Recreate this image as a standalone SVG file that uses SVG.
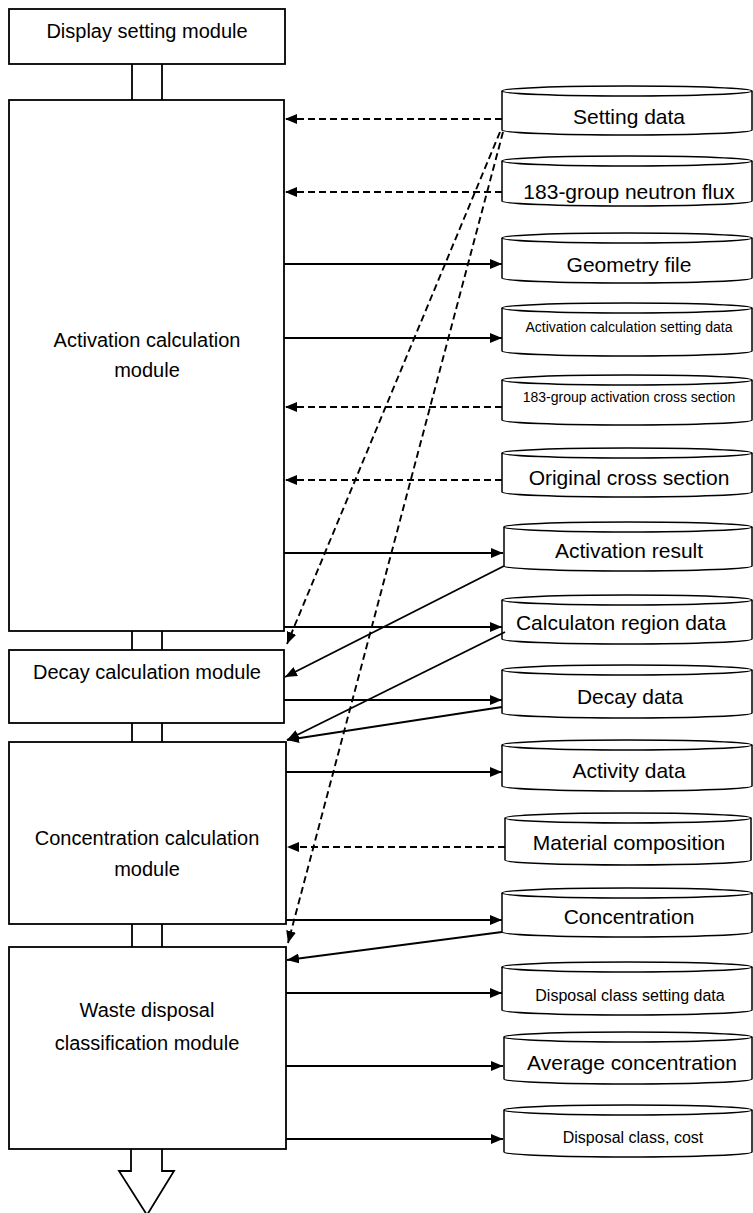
<svg xmlns="http://www.w3.org/2000/svg" width="753" height="1213" viewBox="0 0 753 1213">
<style>
.box{fill:#fff;stroke:#000;stroke-width:1.8}
.cyl{fill:#fff;stroke:#000;stroke-width:1.5}
.mt{font-family:"Liberation Sans",Arial,sans-serif;font-size:20px;fill:#000;text-anchor:middle}
.ct{font-family:"Liberation Sans",Arial,sans-serif;font-size:21px;fill:#000;text-anchor:middle}
.cs{font-family:"Liberation Sans",Arial,sans-serif;font-size:14px;fill:#000;text-anchor:middle}
.cm{font-family:"Liberation Sans",Arial,sans-serif;font-size:16px;fill:#000;text-anchor:middle}
.s{stroke:#000;stroke-width:1.9;fill:none;marker-end:url(#ah)}
.d{stroke:#000;stroke-width:1.9;fill:none;stroke-dasharray:7 4;marker-end:url(#ah)}
.stub{stroke:#000;stroke-width:1.8;fill:none}
</style>
<defs>
<marker id="ah" viewBox="0 0 12 10" refX="12" refY="5" markerWidth="12" markerHeight="10" markerUnits="userSpaceOnUse" orient="auto">
<path d="M0,0 L12,5 L0,10 z" fill="#000" stroke="none"/>
</marker>
</defs>
<rect width="753" height="1213" fill="#fff"/>

<g id="stubs">
<path class="stub" d="M132,64V100M162,64V100M132,631V650M162,631V650M132,723V742M162,723V742M132,924V947M162,924V947"/>
<path class="stub" d="M131,1149V1171H119L147,1215L174,1171H162V1149"/>
</g>

<g id="display-setting-module">
<rect class="box" x="9" y="9" width="276" height="55"/>
<text class="mt" x="147" y="38">Display setting module</text>
</g>
<g id="activation-calculation-module">
<rect class="box" x="9" y="100" width="275" height="531"/>
<text class="mt" x="147" y="347">Activation calculation</text>
<text class="mt" x="147" y="377">module</text>
</g>
<g id="decay-calculation-module">
<rect class="box" x="9" y="650" width="275" height="73"/>
<text class="mt" x="147" y="679">Decay calculation module</text>
</g>
<g id="concentration-calculation-module">
<rect class="box" x="9" y="742" width="277" height="182"/>
<text class="mt" x="147" y="845">Concentration calculation</text>
<text class="mt" x="147" y="876">module</text>
</g>
<g id="waste-disposal-classification-module">
<rect class="box" x="9" y="947" width="277" height="202"/>
<text class="mt" x="147" y="1017">Waste disposal</text>
<text class="mt" x="147" y="1050">classification module</text>
</g>

<g id="setting-data">
<path class="cyl" d="M502,91V130A125,5 0 0 0 752,130V91"/><ellipse class="cyl" cx="627" cy="91" rx="125" ry="5"/>
<text class="ct" x="629" y="124">Setting data</text>
</g>
<g id="neutron-flux">
<path class="cyl" d="M502,161V201A125,5 0 0 0 752,201V161"/><ellipse class="cyl" cx="627" cy="161" rx="125" ry="5"/>
<text class="ct" x="629" y="199">183-group neutron flux</text>
</g>
<g id="geometry-file">
<path class="cyl" d="M502,238V278A125,5 0 0 0 752,278V238"/><ellipse class="cyl" cx="627" cy="238" rx="125" ry="5"/>
<text class="ct" x="629" y="272">Geometry file</text>
</g>
<g id="activation-calculation-setting-data">
<path class="cyl" d="M502,308V351A125,5 0 0 0 752,351V308"/><ellipse class="cyl" cx="627" cy="308" rx="125" ry="5"/>
<text class="cs" x="629" y="332">Activation calculation setting data</text>
</g>
<g id="activation-cross-section">
<path class="cyl" d="M502,380V420A125,5 0 0 0 752,420V380"/><ellipse class="cyl" cx="627" cy="380" rx="125" ry="5"/>
<text class="cs" x="629" y="402">183-group activation cross section</text>
</g>
<g id="original-cross-section">
<path class="cyl" d="M502,453V492A125,5 0 0 0 752,492V453"/><ellipse class="cyl" cx="627" cy="453" rx="125" ry="5"/>
<text class="ct" x="629" y="485">Original cross section</text>
</g>
<g id="activation-result">
<path class="cyl" d="M504,527V566A124,5 0 0 0 752,566V527"/><ellipse class="cyl" cx="628" cy="527" rx="124" ry="5"/>
<text class="ct" x="629" y="558">Activation result</text>
</g>
<g id="calculation-region-data">
<path class="cyl" d="M502,600V639A125,5 0 0 0 752,639V600"/><ellipse class="cyl" cx="627" cy="600" rx="125" ry="5"/>
<text class="ct" x="621" y="630">Calculaton region data</text>
</g>
<g id="decay-data">
<path class="cyl" d="M502,670V713A125,5 0 0 0 752,713V670"/><ellipse class="cyl" cx="627" cy="670" rx="125" ry="5"/>
<text class="ct" x="630" y="704">Decay data</text>
</g>
<g id="activity-data">
<path class="cyl" d="M502,745V786A125,5 0 0 0 752,786V745"/><ellipse class="cyl" cx="627" cy="745" rx="125" ry="5"/>
<text class="ct" x="629" y="778">Activity data</text>
</g>
<g id="material-composition">
<path class="cyl" d="M505,818V860A123,5 0 0 0 751,860V818"/><ellipse class="cyl" cx="628" cy="818" rx="123" ry="5"/>
<text class="ct" x="629" y="850">Material composition</text>
</g>
<g id="concentration">
<path class="cyl" d="M502,893V932A125,5 0 0 0 752,932V893"/><ellipse class="cyl" cx="627" cy="893" rx="125" ry="5"/>
<text class="ct" x="629" y="924">Concentration</text>
</g>
<g id="disposal-class-setting-data">
<path class="cyl" d="M502,967V1010A125,5 0 0 0 752,1010V967"/><ellipse class="cyl" cx="627" cy="967" rx="125" ry="5"/>
<text class="cm" x="630" y="1001">Disposal class setting data</text>
</g>
<g id="average-concentration">
<path class="cyl" d="M504,1037V1079A124,5 0 0 0 752,1079V1037"/><ellipse class="cyl" cx="628" cy="1037" rx="124" ry="5"/>
<text class="ct" x="632" y="1070">Average concentration</text>
</g>
<g id="disposal-class-cost">
<path class="cyl" d="M504,1110V1152A124,5 0 0 0 752,1152V1110"/><ellipse class="cyl" cx="628" cy="1110" rx="124" ry="5"/>
<text class="cm" x="633" y="1143">Disposal class, cost</text>
</g>

<g id="connectors">
<line class="d" x1="502" y1="119" x2="285" y2="119"/>
<line class="d" x1="502" y1="192" x2="285" y2="192"/>
<line class="s" x1="284" y1="264" x2="502" y2="264"/>
<line class="s" x1="284" y1="338" x2="502" y2="338"/>
<line class="d" x1="502" y1="407" x2="285" y2="407"/>
<line class="d" x1="502" y1="480" x2="285" y2="480"/>
<line class="s" x1="284" y1="553" x2="503" y2="553"/>
<line class="s" x1="284" y1="627" x2="502" y2="627"/>
<line class="s" x1="284" y1="700" x2="502" y2="700"/>
<line class="s" x1="286" y1="772" x2="502" y2="772"/>
<line class="d" x1="505" y1="847" x2="287" y2="847"/>
<line class="s" x1="286" y1="920" x2="502" y2="920"/>
<line class="s" x1="286" y1="993" x2="502" y2="993"/>
<line class="s" x1="286" y1="1066" x2="503" y2="1066"/>
<line class="s" x1="286" y1="1139" x2="503" y2="1139"/>
<line class="d" x1="500" y1="132" x2="287" y2="644"/>
<line class="d" x1="503" y1="132" x2="288" y2="943"/>
<line class="s" x1="504" y1="566" x2="285" y2="677"/>
<line class="s" x1="505" y1="632" x2="287" y2="740"/>
<line class="s" x1="502" y1="707" x2="287" y2="740"/>
<line class="s" x1="502" y1="932" x2="287" y2="960"/>
</g>
</svg>
